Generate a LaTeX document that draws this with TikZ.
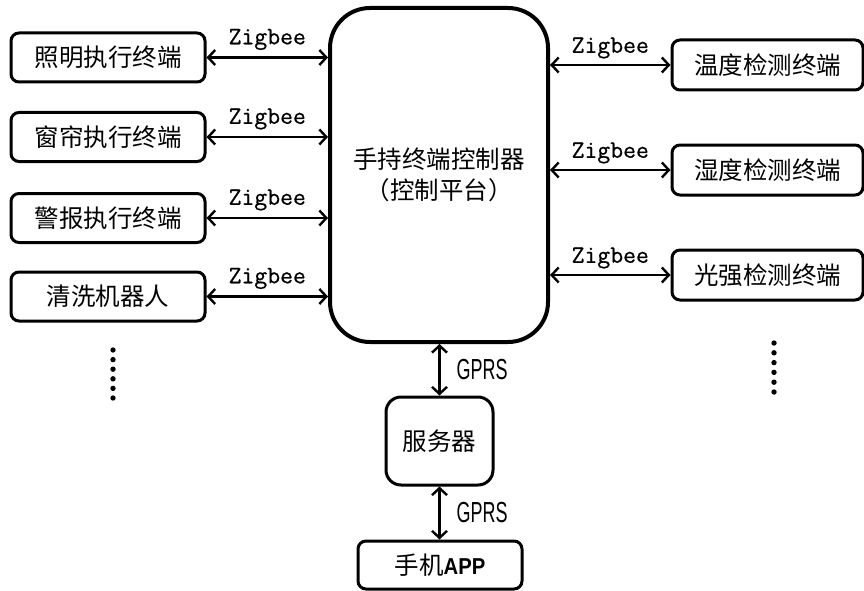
\documentclass[tikz,border=0pt]{standalone}
\usepackage{fontspec}
\newfontfamily\cjk{Noto Sans CJK SC}
\newfontfamily\zfont[FakeBold=0.6]{Latin Modern Mono}
\newfontfamily\gfont[FakeStretch=0.62]{Liberation Sans}
\newfontfamily\afont[FakeStretch=0.88]{Liberation Sans}
\usetikzlibrary{arrows.meta}
\begin{document}
\begin{tikzpicture}[x=1pt,y=-1pt,
  box/.style={draw, line width=3pt, rounded corners=8pt, inner sep=0pt,
    font=\cjk\fontsize{24.5}{31}\selectfont, align=center},
  link/.style={line width=2.4pt, {Straight Barb[length=7pt,width=15pt,line width=2.4pt]}-{Straight Barb[length=7pt,width=15pt,line width=2.4pt]}},
  zlab/.style={font=\zfont\fontsize{25}{27}\selectfont, inner sep=0pt},
  glab/.style={font=\gfont\fontsize{29}{32}\selectfont, inner sep=0pt}
]
\useasboundingbox (0,0) rectangle (864,591);
% left boxes
\node[box, minimum width=194pt, minimum height=49pt] (l1) at (108,57.5) {照明执行终端};
\node[box, minimum width=194pt, minimum height=49pt] (l2) at (108,137) {窗帘执行终端};
\node[box, minimum width=194pt, minimum height=49pt] (l3) at (108,218) {警报执行终端};
\node[box, minimum width=194pt, minimum height=49pt] (l4) at (108,296.5) {清洗机器人};
% center
\node[box, line width=4pt, rounded corners=40pt, minimum width=218pt, minimum height=334pt] (c) at (439,175) {手持终端控制器\\（控制平台）};
% right boxes
\node[box, minimum width=191pt, minimum height=50pt] (r1) at (767.5,65) {温度检测终端};
\node[box, minimum width=191pt, minimum height=50pt] (r2) at (767.5,170) {湿度检测终端};
\node[box, minimum width=191pt, minimum height=50pt] (r3) at (767.5,275) {光强检测终端};
% server and phone
\node[box, rounded corners=15pt, minimum width=107pt, minimum height=88pt] (s) at (439.5,441) {服务器};
\node[box, minimum width=164pt, minimum height=48pt] (p) at (440,565) {手机{\afont\bfseries\fontsize{23}{26}\selectfont APP}};
% links
\foreach \n in {l1,l2,l3,l4}{
  \draw[link] (\n.east) -- (\n.east -| c.west) node[midway, zlab, yshift=18pt] {Zigbee};
}
\foreach \n in {r1,r2,r3}{
  \draw[link] (\n.west -| c.east) -- (\n.west) node[midway, zlab, yshift=17pt] {Zigbee};
}
\draw[link] (c.south -| s.north) -- (s.north) node[midway, glab, right=16pt] {GPRS};
\draw[link] (s.south) -- (p.north -| s.south) node[midway, glab, right=16pt] {GPRS};
% dots
\foreach \i in {0,...,5}{
  \fill (113,350+9.6*\i) circle (2.7pt);
  \fill (774,343+9.8*\i) circle (2.7pt);
}
\end{tikzpicture}
\end{document}
